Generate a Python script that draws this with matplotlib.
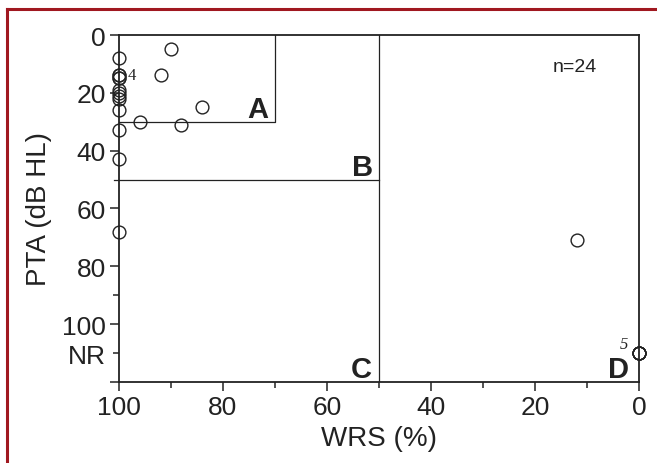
import matplotlib
matplotlib.use("Agg")
import matplotlib.pyplot as plt
from matplotlib.lines import Line2D

plt.rcParams['font.family'] = ['Liberation Sans', 'DejaVu Sans']

# WRS (%) vs PTA (dB HL); NR plotted at 110
wrs = [100] * 13 + [90, 92, 84, 96, 88, 12] + [0] * 5
pta = [8, 14, 14, 15, 15, 19, 20, 21, 22, 26, 33, 43, 68,
       5, 14, 25, 30, 31, 71,
       110, 110, 110, 110, 110]

y_major = [0, 20, 40, 60, 80, 100, 120]
y_major_labels = ['0', '20', '40', '60', '80', '100', '']
y_minor = [90, 110]
y_minor_labels = ['', 'NR']
x_major = [100, 80, 60, 40, 20, 0]
x_minor = [90, 70, 50, 30, 10]

# quadrant labels (text, wrs, pta)
quad_labels = [('A', 71.3, 28.5), ('B', 51.2, 48.3), ('C', 51.3, 118.2), ('D', 2.0, 118.2)]
# counts of overlapping points (text, wrs, pta)
counts = [('4', 98.3, 14.0), ('5', 2.0, 107.0)]

ink = '#222222'

fig = plt.figure(figsize=(6.57, 4.64), dpi=100)
ax = fig.add_axes([0.1811, 0.1746, 0.7915, 0.7478])

ax.set_xlim(100, 0)
ax.set_ylim(120, 0)

# region boxes
ax.plot([100, 70, 70], [30, 30, 0], color=ink, lw=0.9)
ax.plot([101, 50], [50, 50], color=ink, lw=0.9, clip_on=False)
ax.plot([50, 50], [0, 120], color=ink, lw=0.9)

ax.plot(wrs, pta, 'o', mfc='none', mec=ink, mew=1.0, ms=9.2, clip_on=False, zorder=5)

for t, x, y in quad_labels:
    ax.text(x, y, t, ha='right', va='baseline', fontsize=21, fontweight='bold', color=ink)

ax.text(counts[0][1], counts[0][2], counts[0][0], ha='left', va='center',
        fontsize=12, family='Liberation Serif', color=ink)
ax.text(counts[1][1], counts[1][2], counts[1][0], ha='right', va='center',
        fontsize=12, family='Liberation Serif', style='italic', color=ink)

ax.text(12.3, 11, 'n=24', ha='center', va='center', fontsize=14, color=ink)

for s in ax.spines.values():
    s.set_linewidth(1.3)
    s.set_color(ink)

ax.set_xticks(x_major)
ax.set_xticks(x_minor, minor=True)
ax.set_yticks(y_major, labels=y_major_labels)
ax.set_yticks(y_minor, labels=y_minor_labels, minor=True)
ax.tick_params(which='major', length=6.5, width=1.1, color=ink, labelsize=19, pad=3, labelcolor=ink)
ax.tick_params(which='minor', length=4, width=1.1, color=ink, labelsize=19, pad=5.5, labelcolor=ink)

ax.set_xlabel('WRS (%)', fontsize=20, color=ink, labelpad=4)
ax.set_ylabel('PTA (dB HL)', fontsize=20, color=ink, labelpad=7)

# dark red frame on top and left
red = '#a01820'
fig.add_artist(Line2D([0.0107, 1.0], [0.9795, 0.9795], color=red, lw=2.2, transform=fig.transFigure))
fig.add_artist(Line2D([0.0107, 0.0107], [0.0, 0.9795], color=red, lw=2.2, transform=fig.transFigure))

fig.savefig('out.png', dpi=100)
